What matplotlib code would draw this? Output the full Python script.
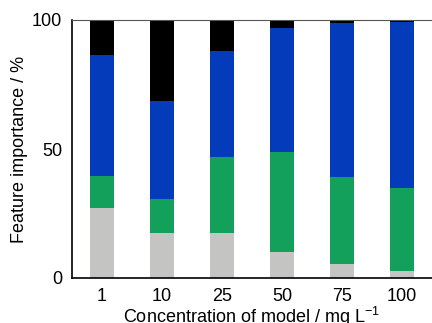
import matplotlib
matplotlib.use("Agg")
import matplotlib.pyplot as plt
import numpy as np

plt.rcParams['font.family'] = ['Liberation Sans', 'DejaVu Sans']
plt.rcParams['mathtext.fontset'] = 'custom'
plt.rcParams['mathtext.rm'] = 'Liberation Sans'
plt.rcParams['mathtext.it'] = 'Liberation Sans:italic'
plt.rcParams['mathtext.default'] = 'regular'

categories = ["1", "10", "25", "50", "75", "100"]
gray_vals = [27.2, 17.6, 17.6, 10.2, 5.3, 2.8]
green_vals = [12.3, 12.9, 29.4, 38.5, 33.8, 32.1]
blue_vals = [46.9, 38.1, 41.1, 48.3, 59.7, 64.4]
black_vals = [13.6, 31.4, 11.9, 3.0, 1.2, 0.7]

series = [gray_vals, green_vals, blue_vals, black_vals]
colors = ["#c4c5c2", "#12a05a", "#043bbb", "#000000"]

fig = plt.figure(figsize=(4.32, 3.23), dpi=100)
ax = fig.add_axes([72/432, 1-278/323, 1-72/432, (278-20)/323])

x = np.arange(len(categories))
bottom = np.zeros(len(categories))
for vals, c in zip(series, colors):
    ax.bar(x, vals, width=0.4, bottom=bottom, color=c, edgecolor='none')
    bottom += np.array(vals)

ax.set_xlim(-0.5, 5.5)
ax.set_ylim(0, 100)
ax.set_xticks(x)
ax.set_xticklabels(categories)
ax.set_yticks([0, 50, 100])
ax.tick_params(axis='both', length=0, labelsize=13)
ax.tick_params(axis='y', pad=7)
ax.tick_params(axis='x', pad=7)
ax.spines['right'].set_visible(False)
ax.spines['top'].set_color('#555555')
ax.spines['left'].set_linewidth(1.2)
ax.spines['bottom'].set_linewidth(1.2)
ax.set_ylabel("Feature importance / %", fontsize=13)
ax.yaxis.set_label_coords(-0.122, 0.5)
ax.set_xlabel("Concentration of model / mg L$^{\u22121}$", fontsize=13, labelpad=0)

fig.savefig("out.png", dpi=100)
